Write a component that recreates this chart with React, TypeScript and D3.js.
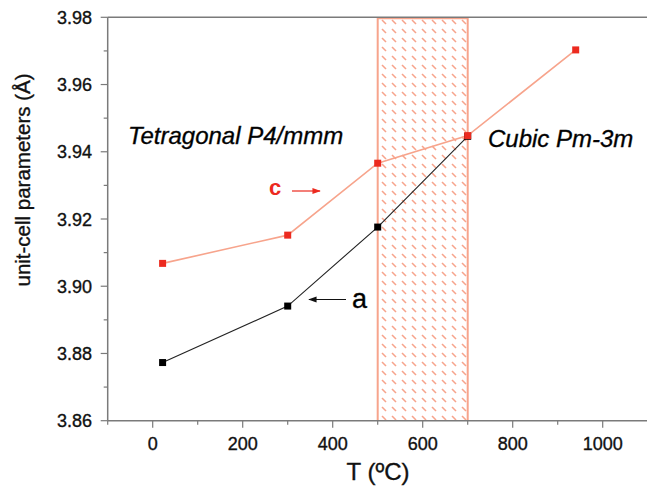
import * as d3 from "d3";

const W = 647;
const H = 487;

const tempsC = [22, 300, 500, 700, 940];
const cValues = [3.9068, 3.9152, 3.9366, 3.9448, 3.9703];
const tempsA = [22, 300, 500, 700];
const aValues = [3.8773, 3.8941, 3.9176, 3.9446];

const xTicks = [0, 200, 400, 600, 800, 1000];
const xMinor = [-100, 100, 300, 500, 700, 900, 1100];
const yTicks = [3.86, 3.88, 3.9, 3.92, 3.94, 3.96, 3.98];
const yMinor = [3.87, 3.89, 3.91, 3.93, 3.95, 3.97];
const cubicRange = [500, 700];

const FONT = "'Liberation Sans', Arial, Helvetica, sans-serif";
const AXIS = "#7a7a7a";
const RED = "#ec2a1f";
const SALMON = "#f7a48c";
const INK = "#111";

const x = d3.scaleLinear().domain([-100, 1100]).range([107.7, 647.7]);
const y = d3.scaleLinear().domain([3.86, 3.98]).range([420.7, 17.3]);

export default function App() {
  const line = d3
    .line<[number, number]>()
    .x((d) => x(d[0]))
    .y((d) => y(d[1]));
  const cPts = tempsC.map((t, i) => [t, cValues[i]] as [number, number]);
  const aPts = tempsA.map((t, i) => [t, aValues[i]] as [number, number]);

  const [x0, x1] = cubicRange.map(x);
  const sq = 7;
  // slight outline so the text looks as heavy as in the scan
  const heavy = { stroke: INK, strokeWidth: 0.35 };

  return (
    <svg
      width={W}
      height={H}
      style={{ position: "absolute", left: 0, top: 0, background: "#fff" }}
      fontFamily={FONT}
    >
      <defs>
        <pattern id="hatch" width={10} height={9} patternUnits="userSpaceOnUse">
          <line x1={2} y1={2} x2={6} y2={6} stroke={SALMON} strokeWidth={1.6} />
        </pattern>
        <marker id="arrK" viewBox="0 0 10 10" refX={9} refY={5} markerWidth={7} markerHeight={7} orient="auto">
          <path d="M0,1.5 L10,5 L0,8.5 z" fill="#111" />
        </marker>
        <marker id="arrR" viewBox="0 0 10 10" refX={9} refY={5} markerWidth={7} markerHeight={7} orient="auto">
          <path d="M0,1.5 L10,5 L0,8.5 z" fill={RED} />
        </marker>
      </defs>

      {/* cubic region */}
      <rect x={x0} y={y(3.98)} width={x1 - x0} height={y(3.86) - y(3.98)} fill="url(#hatch)" />
      <line x1={x0} x2={x0} y1={y(3.98)} y2={y(3.86)} stroke={SALMON} strokeWidth={2} />
      <line x1={x1} x2={x1} y1={y(3.98)} y2={y(3.86)} stroke={SALMON} strokeWidth={2} />
      <line x1={x0} x2={x1} y1={y(3.98) + 1} y2={y(3.98) + 1} stroke={SALMON} strokeWidth={2} />

      {/* frame */}
      <line x1={x(-100)} x2={x(1100)} y1={y(3.98)} y2={y(3.98)} stroke={AXIS} strokeWidth={1.5} />
      <line x1={x(-100)} x2={x(1100)} y1={y(3.86)} y2={y(3.86)} stroke={AXIS} strokeWidth={1.5} />
      <line x1={x(-100)} x2={x(-100)} y1={y(3.98)} y2={y(3.86)} stroke={AXIS} strokeWidth={1.5} />

      {/* x ticks */}
      {xTicks.map((t) => (
        <g key={"xt" + t}>
          <line x1={x(t)} x2={x(t)} y1={y(3.86)} y2={y(3.86) + 7} stroke={AXIS} strokeWidth={1.2} />
          <text x={x(t)} y={449.5} textAnchor="middle" fontSize={18} fill={INK} {...heavy}>
            {t}
          </text>
        </g>
      ))}
      {xMinor.map((t) => (
        <line key={"xm" + t} x1={x(t)} x2={x(t)} y1={y(3.86)} y2={y(3.86) + 4} stroke={AXIS} strokeWidth={1.2} />
      ))}

      {/* y ticks */}
      {yTicks.map((v) => (
        <g key={"yt" + v}>
          <line x1={x(-100) - 7} x2={x(-100)} y1={y(v)} y2={y(v)} stroke={AXIS} strokeWidth={1.2} />
          <text x={92} y={y(v) + 6.5} textAnchor="end" fontSize={18} fill={INK} {...heavy}>
            {v.toFixed(2)}
          </text>
        </g>
      ))}
      {yMinor.map((v) => (
        <line key={"ym" + v} x1={x(-100) - 4} x2={x(-100)} y1={y(v)} y2={y(v)} stroke={AXIS} strokeWidth={1.2} />
      ))}

      {/* axis titles */}
      <text x={378} y={480} textAnchor="middle" fontSize={24} fill={INK} {...heavy}>
        T (ºC)
      </text>
      <text transform={`translate(30,180) rotate(-90)`} textAnchor="middle" fontSize={20.5} fill={INK} {...heavy}>
        unit-cell parameters (Å)
      </text>

      {/* series */}
      <path d={line(aPts) ?? ""} fill="none" stroke="#222" strokeWidth={1.1} />
      <path d={line(cPts) ?? ""} fill="none" stroke={SALMON} strokeWidth={1.6} />
      {aPts.map((p, i) => (
        <rect key={"a" + i} x={x(p[0]) - sq / 2} y={y(p[1]) - sq / 2} width={sq} height={sq} fill="#000" />
      ))}
      {cPts.map((p, i) => (
        <rect key={"c" + i} x={x(p[0]) - sq / 2} y={y(p[1]) - sq / 2} width={sq} height={sq} fill={RED} />
      ))}

      {/* annotations */}
      <text x={128} y={144} fontSize={24} fontStyle="italic" fill="#000" {...heavy}>
        Tetragonal P4/mmm
      </text>
      <text x={488} y={146.5} fontSize={24} fontStyle="italic" fill="#000" {...heavy}>
        Cubic Pm-3m
      </text>
      <text x={269} y={195} fontSize={22} fontWeight="bold" fill={RED}>
        c
      </text>
      <line x1={292} x2={320} y1={191} y2={191} stroke={RED} strokeWidth={1.2} markerEnd="url(#arrR)" />
      <text x={352} y={308} fontSize={27} fill="#000" {...heavy}>
        a
      </text>
      <line x1={346} x2={309} y1={299.5} y2={299.5} stroke="#111" strokeWidth={1.2} markerEnd="url(#arrK)" />
    </svg>
  );
}
